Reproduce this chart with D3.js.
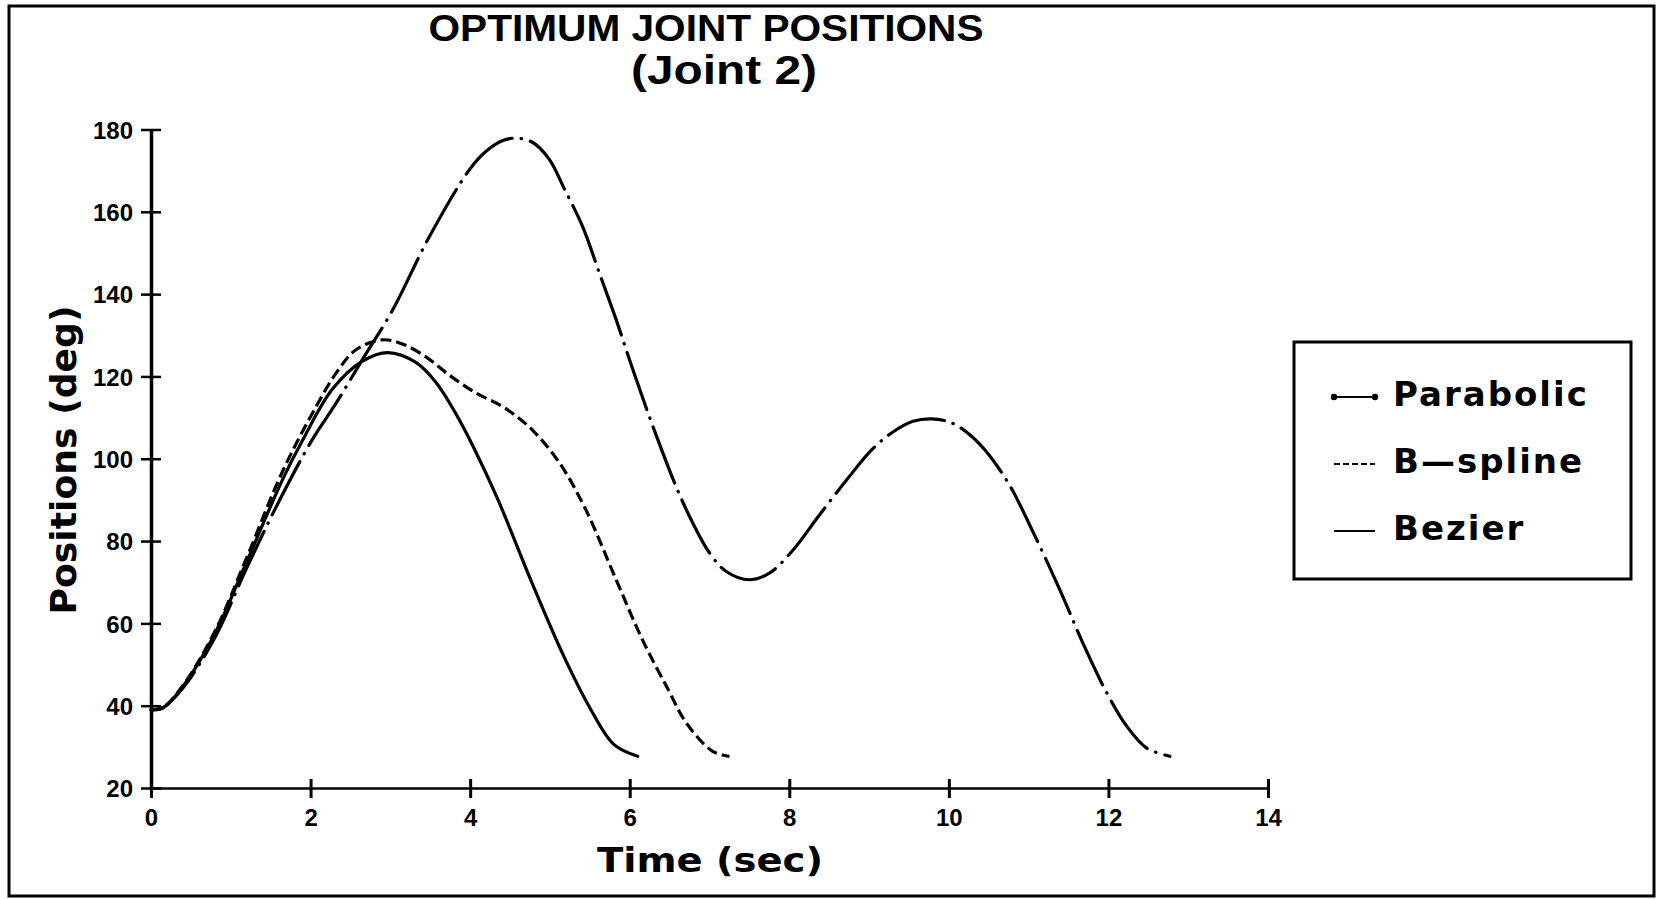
<!DOCTYPE html>
<html>
<head>
<meta charset="utf-8">
<script src="https://cdn.jsdelivr.net/npm/d3@7"></script>
<style>
html,body{margin:0;padding:0;background:#fff;}
svg{display:block;}
</style>
</head>
<body>
<svg id="chart" width="1657" height="899"></svg>
<script>
// values: time (sec) / position (deg)
const parabolicTime = [0, 0.15, 0.4, 0.8, 1.2, 1.6, 2.02, 2.32, 2.65, 3.03, 3.49, 3.99, 4.2, 4.41, 4.58, 4.78, 4.99, 5.18, 5.41, 5.62, 5.83, 6.04, 6.29, 6.58, 6.79, 7.0, 7.21, 7.5, 7.75, 8.05, 8.38, 8.72, 9.05, 9.3, 9.55, 9.78, 10.01, 10.22, 10.45, 10.76, 11.06, 11.39, 11.68, 11.98, 12.23, 12.48, 12.77];
const parabolicDeg  = [39, 39.5, 44.3, 56.5, 73.5, 89.5, 104.6, 113.5, 124.1, 136.2, 154, 170.2, 174.7, 177.3, 177.9, 176.9, 172.8, 165.6, 156.4, 145.1, 133.8, 121.6, 107.9, 93.3, 84.4, 77.1, 72.6, 70.6, 72.2, 77.9, 86.4, 94.9, 102.5, 106.5, 109.1, 109.7, 108.9, 106.5, 102.2, 93.6, 82, 68.2, 55.2, 43.1, 35, 29.7, 27.7];

const bsplineTime = [0, 0.15, 0.4, 0.8, 1.2, 1.65, 2.07, 2.32, 2.57, 2.9, 3.15, 3.45, 3.74, 4.07, 4.37, 4.58, 4.79, 5.12, 5.45, 5.83, 6.16, 6.48, 6.71, 7.04, 7.25];
const bsplineDeg  = [39, 39.6, 44.9, 58, 76, 97, 112.7, 120.8, 126.5, 128.9, 127.9, 124.7, 120.3, 116, 113.1, 110.3, 106.8, 99, 87.6, 70.6, 56, 44, 35.8, 28.9, 27.7];

const bezierTime = [0, 0.15, 0.4, 0.8, 1.2, 1.65, 1.9, 2.27, 2.65, 2.97, 3.32, 3.57, 3.82, 4.05, 4.35, 4.75, 5.15, 5.5, 5.8, 6.1];
const bezierDeg  = [39, 39.5, 44.7, 57.5, 75, 95, 104.5, 116.8, 123.7, 125.8, 123.4, 118.6, 111, 102.5, 90, 71, 53, 39.5, 30.6, 27.7];

const xTicks = [0, 2, 4, 6, 8, 10, 12, 14];
const yTicks = [20, 40, 60, 80, 100, 120, 140, 160, 180];
const seriesNames = ["Parabolic", "B\u2014spline", "Bezier"];

const narrowFont = "'Liberation Sans Narrow', 'Liberation Sans', Arial, sans-serif";
const wideFont = "'DejaVu Sans', Verdana, sans-serif";

const svg = d3.select("#chart");

// outer frame
svg.append("rect")
  .attr("x", 9).attr("y", 6).attr("width", 1645).attr("height", 890)
  .attr("fill", "none").attr("stroke", "#000").attr("stroke-width", 3);

const x = d3.scaleLinear().domain([0, 14]).range([151, 1268]);
const y = d3.scaleLinear().domain([20, 180]).range([788, 129.5]);

// title
svg.append("text")
  .attr("x", 706).attr("y", 41)
  .attr("text-anchor", "middle")
  .attr("font-family", narrowFont).attr("font-weight", "bold").attr("font-size", 37)
  .attr("textLength", 555).attr("lengthAdjust", "spacingAndGlyphs")
  .text("OPTIMUM JOINT POSITIONS");
svg.append("text")
  .attr("x", 724).attr("y", 84)
  .attr("text-anchor", "middle")
  .attr("font-family", narrowFont).attr("font-weight", "bold").attr("font-size", 40)
  .attr("textLength", 186).attr("lengthAdjust", "spacingAndGlyphs")
  .text("(Joint 2)");

// y axis
const yAxis = svg.append("g")
  .attr("transform", `translate(${x(0)},0)`)
  .call(d3.axisLeft(y).tickValues(yTicks).tickSizeOuter(0).tickSizeInner(10));
yAxis.select(".domain").attr("stroke-width", 3.5);
yAxis.selectAll(".tick line").attr("x1", -10).attr("x2", 10).attr("stroke-width", 2.5);
yAxis.selectAll(".tick text")
  .attr("x", -18).attr("dy", "0.36em")
  .attr("font-family", narrowFont).attr("font-weight", "bold").attr("font-size", 24)
  .attr("fill", "#000");

// x axis
const xAxis = svg.append("g")
  .attr("transform", `translate(0,${y(20)})`)
  .call(d3.axisBottom(x).tickValues(xTicks).tickSizeOuter(0).tickSizeInner(9));
xAxis.select(".domain").attr("stroke-width", 2.5);
xAxis.selectAll(".tick line").attr("y1", -9).attr("y2", 10).attr("stroke-width", 3);
xAxis.selectAll(".tick text")
  .attr("y", 38).attr("dy", 0)
  .attr("font-family", narrowFont).attr("font-weight", "bold").attr("font-size", 24)
  .attr("fill", "#000");

// axis titles
svg.append("text")
  .attr("x", 710).attr("y", 872)
  .attr("text-anchor", "middle")
  .attr("font-family", wideFont).attr("font-weight", "bold").attr("font-size", 34)
  .attr("textLength", 226).attr("lengthAdjust", "spacingAndGlyphs")
  .text("Time (sec)");
svg.append("text")
  .attr("transform", "translate(76,460) rotate(-90)")
  .attr("text-anchor", "middle")
  .attr("font-family", wideFont).attr("font-weight", "bold").attr("font-size", 35)
  .attr("textLength", 309).attr("lengthAdjust", "spacingAndGlyphs")
  .text("Positions (deg)");

// curves
const line = d3.line()
  .x(d => x(d[0]))
  .y(d => y(d[1]))
  .curve(d3.curveCatmullRom.alpha(0.5));

const series = [
  { name: seriesNames[0], pts: d3.zip(parabolicTime, parabolicDeg), dash: "60,9,0.5,9", cap: "round" },
  { name: seriesNames[1], pts: d3.zip(bsplineTime, bsplineDeg), dash: "11,5", cap: "butt" },
  { name: seriesNames[2], pts: d3.zip(bezierTime, bezierDeg), dash: null, cap: "round" }
];

svg.append("g")
  .selectAll("path")
  .data(series)
  .join("path")
  .attr("d", d => line(d.pts))
  .attr("fill", "none")
  .attr("stroke", "#000")
  .attr("stroke-width", 3.2)
  .attr("stroke-linecap", d => d.cap)
  .attr("stroke-linejoin", "round")
  .attr("stroke-dasharray", d => d.dash);

// legend
const lg = svg.append("g");
lg.append("rect")
  .attr("x", 1294).attr("y", 342).attr("width", 337).attr("height", 237)
  .attr("fill", "none").attr("stroke", "#000").attr("stroke-width", 3);

const rowY = [406, 473, 540];
const rows = lg.selectAll("g.row")
  .data(series)
  .join("g")
  .attr("class", "row")
  .attr("transform", (d, i) => `translate(0,${rowY[i]})`);

rows.append("line")
  .attr("x1", 1334).attr("x2", 1375)
  .attr("y1", -9).attr("y2", -9)
  .attr("stroke", "#000")
  .attr("stroke-width", 2.2)
  .attr("stroke-dasharray", (d, i) => i === 1 ? "6,3" : null);

rows.filter((d, i) => i === 0)
  .selectAll("circle")
  .data([1334, 1375])
  .join("circle")
  .attr("cx", d => d).attr("cy", -9).attr("r", 3.2)
  .attr("fill", "#000");

rows.append("text")
  .attr("x", 1393).attr("y", 0)
  .attr("font-family", wideFont).attr("font-weight", "bold").attr("font-size", 34)
  .attr("letter-spacing", 2)
  .text(d => d.name);
</script>
</body>
</html>
